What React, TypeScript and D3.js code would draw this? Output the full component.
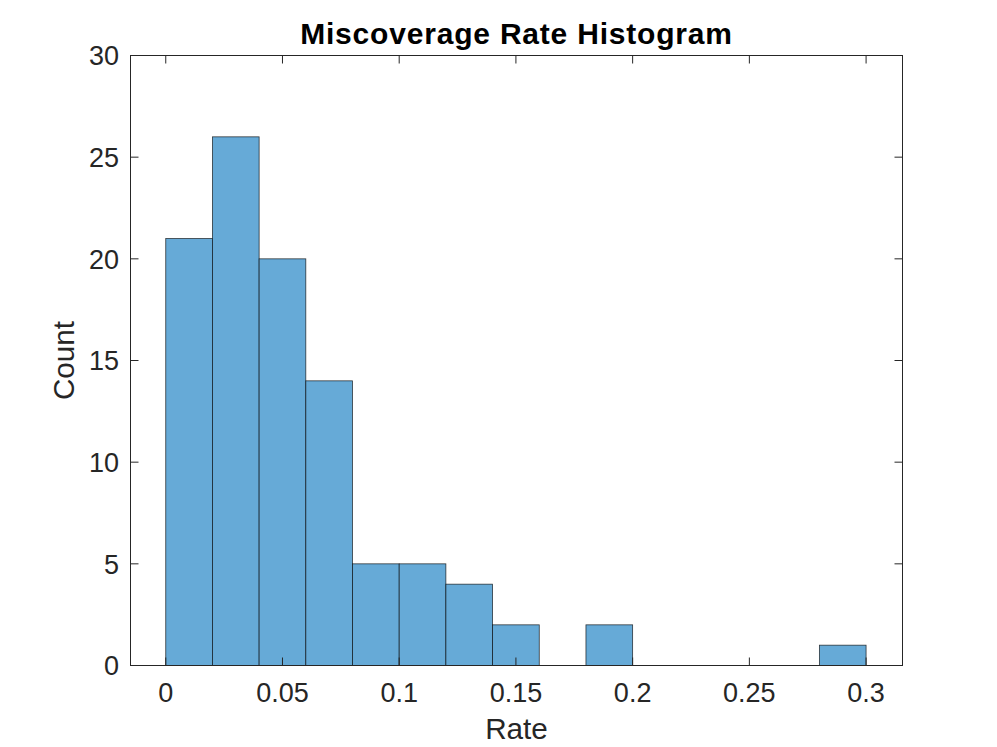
import React from "react";
import * as d3 from "d3";

const binEdges = [0, 0.02, 0.04, 0.06, 0.08, 0.1, 0.12, 0.14, 0.16, 0.18, 0.2, 0.22, 0.24, 0.26, 0.28, 0.3];
const counts = [21, 26, 20, 14, 5, 5, 4, 2, 0, 2, 0, 0, 0, 0, 1];
const xTicks = [0, 0.05, 0.1, 0.15, 0.2, 0.25, 0.3];
const xTickLabels = ["0", "0.05", "0.1", "0.15", "0.2", "0.25", "0.3"];
const yTicks = [0, 5, 10, 15, 20, 25, 30];

const W = 997, H = 747;
const L = 130.5, R = 902.5, T = 55.5, B = 665.5;
const font = "'Liberation Sans', Arial, Helvetica, sans-serif";
const axisColor = "#262626";

export default function App() {
  const x = d3.scaleLinear().domain([-0.0151, 0.3156]).range([L, R]);
  const y = d3.scaleLinear().domain([0, 30]).range([B, T]);
  const bins = counts.map((c, i) => ({ x0: binEdges[i], x1: binEdges[i + 1], c }));
  return (
    <svg width={W} height={H} style={{ position: "absolute", left: 0, top: 0, background: "#fff" }}>
      <rect x={0} y={0} width={W} height={H} fill="#fff" />
      {bins.filter(b => b.c > 0).map((b, i) => (
        <rect key={i} x={x(b.x0)} y={y(b.c)} width={x(b.x1) - x(b.x0)} height={y(0) - y(b.c)}
          fill="rgb(102,170,215)" stroke="#000" strokeOpacity={0.75} strokeWidth={0.8} />
      ))}
      <rect x={L} y={T} width={R - L} height={B - T} fill="none" stroke={axisColor} strokeWidth={1} />
      {xTicks.map((t, i) => (
        <g key={"xt" + i}>
          <line x1={x(t)} x2={x(t)} y1={B} y2={B - 8} stroke={axisColor} />
          <line x1={x(t)} x2={x(t)} y1={T} y2={T + 8} stroke={axisColor} />
          <text x={x(t)} y={702} textAnchor="middle" fontFamily={font} fontSize={27} fill={axisColor}>{xTickLabels[i]}</text>
        </g>
      ))}
      {yTicks.map((t, i) => (
        <g key={"yt" + i}>
          <line x1={L} x2={L + 8} y1={y(t)} y2={y(t)} stroke={axisColor} />
          <line x1={R} x2={R - 8} y1={y(t)} y2={y(t)} stroke={axisColor} />
          <text x={119} y={y(t) + 9.7} textAnchor="end" fontFamily={font} fontSize={27} fill={axisColor}>{t}</text>
        </g>
      ))}
      <text x={(L + R) / 2} y={739} textAnchor="middle" fontFamily={font} fontSize={29.7} fill={axisColor}>Rate</text>
      <text transform={`translate(74,${(T + B) / 2}) rotate(-90)`} textAnchor="middle" fontFamily={font} fontSize={29.7} fill={axisColor}>Count</text>
      <text x={(L + R) / 2} y={44} textAnchor="middle" fontFamily={font} fontSize={30} letterSpacing={0.8} fontWeight="bold" fill="#000">Miscoverage Rate Histogram</text>
    </svg>
  );
}
